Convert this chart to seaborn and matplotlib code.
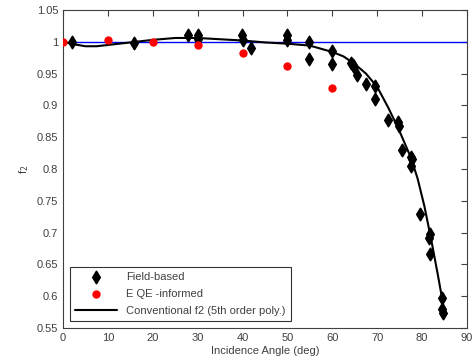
import numpy as np
import pandas as pd
import matplotlib
matplotlib.use("Agg")
import matplotlib.pyplot as plt
import seaborn as sns

# Field-based measurements
field_angle = [2.1, 15.8, 27.9, 30.0, 30.0, 39.8, 40.0, 41.8, 49.8, 49.8,
               54.8, 54.9, 59.9, 59.9, 64.1, 64.5, 64.8, 65.6, 67.6, 69.6,
               69.6, 72.3, 74.6, 74.8, 75.6, 77.5, 77.7, 77.5, 79.5, 81.8,
               81.6, 81.7, 84.4, 84.5, 84.6]
field_f2 = [1.000, 0.998, 1.011, 1.011, 1.004, 1.011, 1.003, 0.990, 1.011, 1.003,
            1.000, 0.973, 0.985, 0.965, 0.966, 0.963, 0.960, 0.947, 0.933, 0.930,
            0.910, 0.877, 0.874, 0.868, 0.830, 0.819, 0.815, 0.804, 0.729, 0.698,
            0.691, 0.666, 0.597, 0.580, 0.574]

# EQE-informed
eqe_angle = [0, 10, 20, 30, 40, 50, 60]
eqe_f2 = [1.000, 1.003, 0.999, 0.995, 0.983, 0.962, 0.927]

# conventional f2 curve
poly_angle = [0, 2.5, 5, 7.5, 10, 15, 20, 25, 30, 35, 40, 45, 50, 55, 60,
              62.5, 65, 67.5, 70, 72.5, 75, 77.5, 79, 80.5, 82, 83.5, 85]
poly_f2 = [1.000, 0.996, 0.993, 0.993, 0.995, 0.999, 1.003, 1.006, 1.006, 1.004,
           1.002, 0.999, 0.997, 0.994, 0.984, 0.977, 0.965, 0.950, 0.929, 0.896,
           0.859, 0.818, 0.785, 0.742, 0.690, 0.634, 0.575]

sns.set_style("white")
plt.rcParams['font.family'] = ['Liberation Sans', 'DejaVu Sans']
plt.rcParams['font.size'] = 8

fig = plt.figure(figsize=(4.75, 3.62), dpi=100)
ax = fig.add_axes([0.1326, 0.094, 0.8505, 0.8784])

ax.axhline(1.0, color='blue', lw=1, zorder=1)
sns.scatterplot(x=field_angle, y=field_f2, marker='d', color='black', s=38,
                edgecolor='black', linewidth=1.3, label='Field-based', ax=ax, zorder=3)
sns.scatterplot(x=eqe_angle, y=eqe_f2, marker='o', color='red', s=36,
                edgecolor='red', linewidth=0, label='E QE -informed', ax=ax, zorder=3)
sns.lineplot(x=poly_angle, y=poly_f2, color='black', lw=1.5, sort=False,
             label='Conventional f2 (5th order poly.)', ax=ax, zorder=2)

ax.set_xlim(0, 90)
ax.set_ylim(0.55, 1.05)
ax.set_xticks(range(0, 91, 10))
ax.set_yticks(np.arange(0.55, 1.051, 0.05))
ax.set_yticklabels(['0.55', '0.6', '0.65', '0.7', '0.75', '0.8', '0.85', '0.9', '0.95', '1', '1.05'])
ax.tick_params(direction='in', top=True, right=True, length=4, width=0.8,
               colors='#404040', labelcolor='#404040', labelsize=8)
for sp in ax.spines.values():
    sp.set_color('#404040')
    sp.set_linewidth(0.8)

ax.set_xlabel('Incidence Angle (deg)', color='#404040', fontsize=8, labelpad=2)
ax.set_ylabel('f$_2$', color='#404040', fontsize=8)

leg = ax.legend(loc='lower left', frameon=True, fancybox=False, fontsize=8,
                borderaxespad=0.6, handlelength=3.8, labelspacing=0.6,
                borderpad=0.5)
leg.get_frame().set_edgecolor('black')
leg.get_frame().set_linewidth(0.8)
for t in leg.get_texts():
    t.set_color('#404040')

fig.savefig('out.png', dpi=100)
